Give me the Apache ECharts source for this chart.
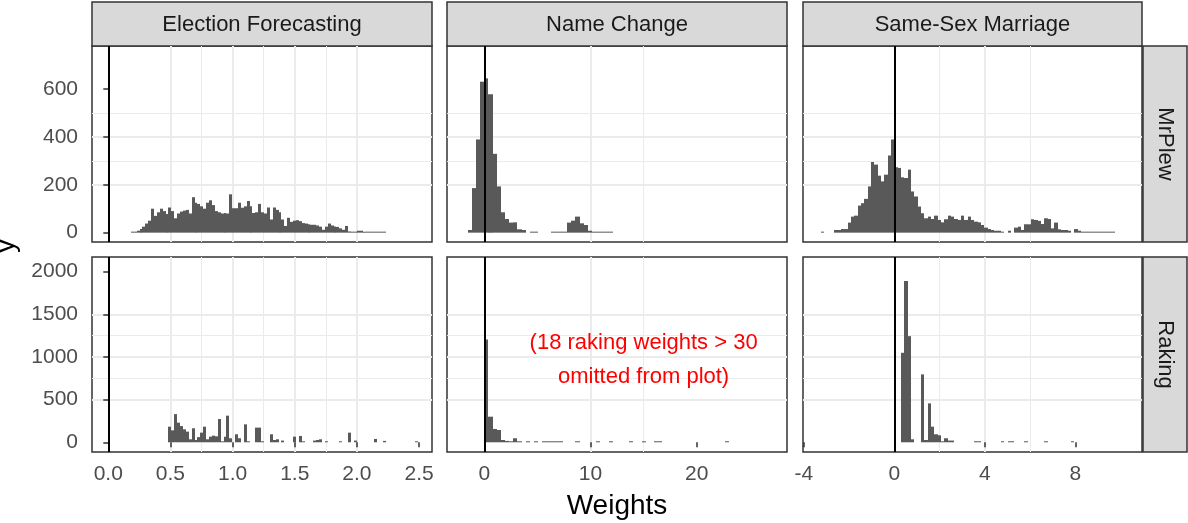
<!DOCTYPE html>
<html>
<head>
<meta charset="utf-8">
<script src="https://cdn.jsdelivr.net/npm/echarts@6/dist/echarts.min.js"></script>
<style>
    html, body { margin: 0; padding: 0; background: #fff; }
    #chart { width: 1188px; height: 523px; }
</style>
</head>
<body>
<div id="chart"></div>
<script>
const methods = ['Election Forecasting', 'Name Change', 'Same-Sex Marriage']
const weightings = ['MrPlew', 'Raking']

// tick values and labels, per column (x) and per row (y)
const xTicks = [[0, 0.5, 1, 1.5, 2, 2.5], [0, 10, 20], [-4, 0, 4, 8]]
const xTickLabels = [['0.0', '0.5', '1.0', '1.5', '2.0', '2.5'], ['0', '10', '20'], ['-4', '0', '4', '8']]
const xMinor = [[0.25, 0.75, 1.25, 1.75, 2.25], [5, 15, 25], [-2, 2, 6, 10]]
const yTicks = [[0, 200, 400, 600], [0, 500, 1000, 1500, 2000]]
const yMinor = [[100, 300, 500, 700], [250, 750, 1250, 1750]]
const xRange = [[-0.131, 2.604], [-3.51, 28.5], [-4.04, 10.95]]
const yRange = [[-39, 779], [-114, 2172]]

// histogram bins: first bin edge, bin width, counts
const efWidth = 0.0233
const efMrplewStart = 0.1814
const efMrplew = [3, 3, 8, 15, 25, 38, 50, 100, 70, 85,
    100, 90, 78, 105, 90, 60, 80, 88, 92, 95,
    80, 148, 125, 120, 110, 100, 125, 135, 115, 90,
    85, 80, 82, 80, 160, 102, 102, 125, 104, 110,
    132, 110, 82, 85, 120, 85, 80, 105, 55, 105,
    95, 85, 55, 28, 62, 45, 50, 52, 48, 40,
    38, 35, 33, 33, 30, 25, 12, 25, 38, 30,
    26, 24, 18, 12, 28, 5, 3, 2, 8, 8,
    4, 2, 3, 3, 2, 2, 1, 1]
const efRakingStart = 0.4843
const efRaking = [183, 140, 330, 230, 190, 152, 125, 35, 164, 27,
    60, 113, 183, 35, 66, 78, 70, 273, 8, 66,
    312, 47, 0, 94, 47, 0, 210, 8, 0, 0,
    172, 172, 8, 0, 0, 94, 27, 35, 0, 20,
    0, 0, 0, 66, 0, 74, 8, 0, 0, 0,
    20, 27, 35, 0, 8, 0, 0, 0, 0, 8,
    0, 0, 113, 0, 20, 0, 0, 0, 0, 0,
    0, 39, 0, 0, 16, 0, 0, 0, 0, 0,
    0, 0, 0, 0, 0, 4]

const ncWidth = 0.39
const ncMrplewStart = -1.56
const ncMrplew = [11, 186, 389, 630, 644, 578, 329, 193, 85, 57,
    42, 43, 14, 11, 0, 1, 1, 0, 0, 0,
    1, 1, 3, 3, 42, 50, 67, 39, 32, 8,
    1, 1, 1, 1, 1]
const ncRakingStart = 0
const ncRaking = [1205, 300, 156, 144, 27, 16, 2, 47, 4, 0,
    3, 0, 3, 0, 3, 2, 8, 8, 2, 0,
    0, 0, 4, 0, 0, 0, 0, 4, 0, 0,
    4, 0, 0, 0, 0, 8, 0, 0, 4, 0,
    0, 4, 4, 0, 0, 0, 0, 0, 0, 0,
    0, 0, 0, 0, 0, 0, 0, 0, 4]

const ssmWidth = 0.1475
const ssmMrplewStart = -3.245
const ssmMrplew = [1, 0, 0, 0, 11, 11, 15, 15, 42, 67,
    71, 113, 123, 141, 193, 295, 284, 238, 214, 242,
    322, 389, 273, 270, 231, 228, 263, 172, 151, 109,
    81, 60, 67, 57, 71, 53, 43, 56, 71, 67,
    57, 53, 71, 53, 67, 53, 46, 43, 32, 21,
    15, 11, 8, 8, 4, 0, 8, 0, 21, 25,
    11, 35, 35, 56, 53, 49, 36, 60, 57, 18,
    42, 14, 11, 11, 8, 0, 15, 8, 1, 1,
    1, 1, 1, 1, 1, 1, 2, 2]
const ssmRakingStart = 0.295
const ssmRaking = [1049, 1891, 1244, 35, 0, 0, 796, 27, 456, 183,
    94, 82, 4, 47, 20, 20, 0, 0, 0, 0,
    0, 0, 4, 4, 0, 0, 0, 0, 0, 0,
    8, 0, 4, 4, 0, 0, 0, 2, 0, 0,
    0, 0, 0, 8, 0, 0, 0, 0, 0, 0,
    0, 4]

const refLine = 0
const noteText = '(18 raking weights > 30\nomitted from plot)'
const noteX = 15
const noteY = 965

const panels = [
    [efMrplewStart, efWidth, efMrplew], [ncMrplewStart, ncWidth, ncMrplew], [ssmMrplewStart, ssmWidth, ssmMrplew],
    [efRakingStart, efWidth, efRaking], [ncRakingStart, ncWidth, ncRaking], [ssmRakingStart, ssmWidth, ssmRaking]
]

// layout (pixels)
const colLeft = [92, 447, 803]
const colWidth = [340, 340, 339]
const rowTop = [46, 257]
const rowHeight = [196, 195]
const font = 'Liberation Sans'
const gridColor = '#ebebeb'
const darkLine = '#333333'

function toBins(start, width, counts) {
    const out = []
    counts.forEach((n, i) => {
        if (n > 0) out.push([start + i * width, start + (i + 1) * width, n])
    })
    return out
}

const grids = [], xAxes = [], yAxes = [], series = []

for (let r = 0; r < 2; r++) {
    for (let c = 0; c < 3; c++) {
        const i = r * 3 + c
        grids.push({
            left: colLeft[c], top: rowTop[r], width: colWidth[c], height: rowHeight[r],
            show: true, backgroundColor: '#fff', borderColor: darkLine, borderWidth: 1.5,
            outerBoundsMode: 'none'
        })
        const labs = xTickLabels[c]
        xAxes.push({
            gridIndex: i, type: 'value', min: xRange[c][0], max: xRange[c][1],
            axisLine: { show: false },
            axisTick: { show: r === 1, customValues: xTicks[c], length: 5, lineStyle: { color: darkLine, width: 1.5 } },
            axisLabel: {
                show: r === 1, customValues: xTicks[c], margin: 12, color: '#4d4d4d', fontSize: 21, fontFamily: font,
                formatter: v => labs[xTicks[c].indexOf(v)] ?? String(v)
            },
            splitLine: { show: true, showMinLine: false, showMaxLine: false, lineStyle: { color: gridColor, width: 2 } }
        })
        xAxes.push({
            gridIndex: i, type: 'value', min: xRange[c][0], max: xRange[c][1],
            axisLine: { show: false }, axisLabel: { show: false },
            axisTick: { show: false, customValues: xMinor[c] },
            splitLine: { show: true, showMinLine: false, showMaxLine: false, lineStyle: { color: gridColor, width: 1 } }
        })
        yAxes.push({
            gridIndex: i, type: 'value', min: yRange[r][0], max: yRange[r][1],
            axisLine: { show: false },
            axisTick: { show: c === 0, customValues: yTicks[r], length: 5, lineStyle: { color: darkLine, width: 1.5 } },
            axisLabel: {
                show: c === 0, customValues: yTicks[r], margin: 14, color: '#4d4d4d', fontSize: 21, fontFamily: font,
                formatter: v => String(v)
            },
            splitLine: { show: true, showMinLine: false, showMaxLine: false, lineStyle: { color: gridColor, width: 2 } }
        })
        yAxes.push({
            gridIndex: i, type: 'value', min: yRange[r][0], max: yRange[r][1],
            axisLine: { show: false }, axisLabel: { show: false },
            axisTick: { show: false, customValues: yMinor[r] },
            splitLine: { show: true, showMinLine: false, showMaxLine: false, lineStyle: { color: gridColor, width: 1 } }
        })
        const p = panels[i]
        series.push({
            type: 'custom',
            xAxisIndex: 2 * i, yAxisIndex: 2 * i,
            clip: true,
            encode: { x: [0, 1], y: 2 },
            data: toBins(p[0], p[1], p[2]),
            renderItem: function (params, api) {
                const p0 = api.coord([api.value(0), api.value(2)])
                const p1 = api.coord([api.value(1), 0])
                const x0 = Math.round(p0[0]), x1 = Math.round(p1[0])
                const h = Math.max(p1[1] - p0[1], 1)
                return {
                    type: 'rect',
                    shape: { x: x0, y: p1[1] - h, width: Math.max(x1 - x0, 1), height: h },
                    style: { fill: '#595959', stroke: null, lineWidth: 0 }
                }
            },
            markLine: {
                silent: true, symbol: 'none', animation: false,
                label: { show: false },
                lineStyle: { color: '#000', width: 2, type: 'solid', opacity: 1 },
                data: [{ xAxis: refLine }]
            }
        })
    }
}

series.push({
    type: 'scatter',
    xAxisIndex: 8, yAxisIndex: 8,
    symbolSize: 0,
    itemStyle: { opacity: 1 },
    data: [[noteX, noteY]],
    label: {
        show: true, position: 'inside', formatter: noteText, opacity: 1,
        color: '#ff0000', textBorderWidth: 0, fontSize: 22, lineHeight: 34, fontFamily: font, align: 'center'
    }
})

const graphics = []
for (let c = 0; c < 3; c++) {
    graphics.push({
        type: 'rect', shape: { x: colLeft[c], y: 2, width: colWidth[c], height: 44 },
        style: { fill: '#d9d9d9', stroke: darkLine, lineWidth: 1.5 }
    })
    graphics.push({
        type: 'text', x: colLeft[c] + colWidth[c] / 2, y: 25,
        style: { text: methods[c], fill: '#1a1a1a', font: '22px "Liberation Sans"', textAlign: 'center', textVerticalAlign: 'middle' }
    })
}
for (let r = 0; r < 2; r++) {
    graphics.push({
        type: 'rect', shape: { x: 1143, y: rowTop[r], width: 44, height: rowHeight[r] },
        style: { fill: '#d9d9d9', stroke: darkLine, lineWidth: 1.5 }
    })
    graphics.push({
        type: 'text', x: 1165, y: rowTop[r] + rowHeight[r] / 2, rotation: -Math.PI / 2,
        style: { text: weightings[r], fill: '#1a1a1a', font: '22px "Liberation Sans"', textAlign: 'center', textVerticalAlign: 'middle' }
    })
}
graphics.push({
    type: 'text', x: 617, y: 506,
    style: { text: 'Weights', fill: '#000', font: '28px "Liberation Sans"', textAlign: 'center', textVerticalAlign: 'middle' }
})
graphics.push({
    type: 'text', x: 6, y: 246, rotation: Math.PI / 2,
    style: { text: 'y', fill: '#000', font: '28px "Liberation Sans"', textAlign: 'center', textVerticalAlign: 'middle' }
})

const myChart = echarts.init(document.getElementById('chart'), null, { renderer: 'canvas' })
myChart.setOption({
    animation: false,
    textStyle: { fontFamily: font },
    grid: grids,
    xAxis: xAxes,
    yAxis: yAxes,
    series: series,
    graphic: graphics
})
</script>
</body>
</html>
